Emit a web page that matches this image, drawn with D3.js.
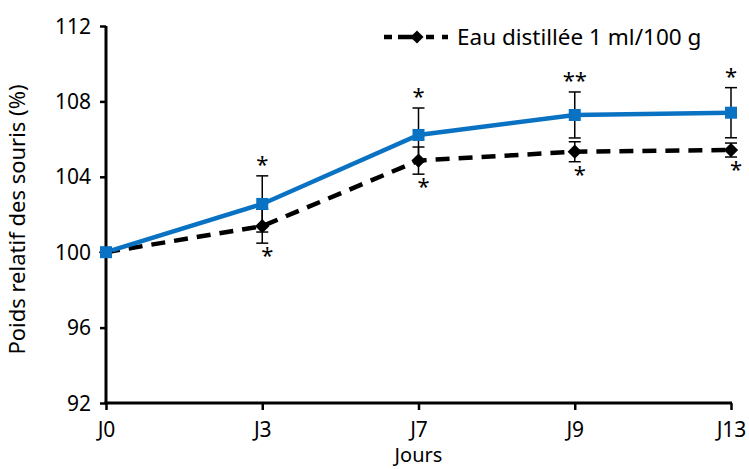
<!DOCTYPE html>
<html><head><meta charset="utf-8">
<script src="https://cdn.jsdelivr.net/npm/d3@7"></script>
<style>body{margin:0;background:#fff}svg{display:block}text{font-family:"Noto Sans",sans-serif;fill:#000}</style>
</head><body><svg id="c" width="749" height="469"></svg>
<script>
const categories = ["J0","J3","J7","J9","J13"];
const yTicks = [92,96,100,104,108,112];
const blueValues = [100,102.56,106.22,107.28,107.4];
const blueErrors = [0,1.49,1.43,1.22,1.33];
const blueStars = ["","*","*","**","*"];
const blackValues = [100,101.38,104.86,105.33,105.42];
const blackErrors = [0,0.9,0.72,0.53,0.37];
const blackStars = ["","*","*","*","*"];
const legendLabel = "Eau distillée 1 ml/100 g";
const yLabel = "Poids relatif des souris (%)";
const xLabel = "Jours";

const svg = d3.select("#c");
const L=106,R=731,T=26,B=403;
const x = d3.scalePoint().domain(categories).range([L,R]);
const y = d3.scaleLinear().domain([92,112]).range([B,T]);

// axes
const yAx = svg.append("g").attr("transform",`translate(${L},0)`)
  .call(d3.axisLeft(y).tickValues(yTicks).tickSize(6).tickPadding(9));
yAx.select(".domain").attr("stroke-width",3).attr("d",`M0,${T}V${B}`);
yAx.selectAll(".tick line").attr("stroke-width",2.5);
yAx.selectAll(".tick text").attr("font-size",21).attr("dy","0.34em");
const xAx = svg.append("g").attr("transform",`translate(0,${B})`)
  .call(d3.axisBottom(x).tickSize(7).tickPadding(12));
xAx.select(".domain").attr("stroke-width",3).attr("d",`M${L-1.5},0H${R+1}`);
xAx.selectAll(".tick line").attr("stroke-width",2.5);
xAx.selectAll(".tick text").attr("font-size",21);
svg.selectAll(".tick text").attr("font-family","Noto Sans");

svg.append("text").attr("x",(L+R)/2).attr("y",462).attr("text-anchor","middle").attr("font-size",20).text(xLabel);
svg.append("text").attr("transform",`translate(25,${(T+B)/2+5}) rotate(-90)`).attr("text-anchor","middle").attr("font-size",22).text(yLabel);

const blue="#0a72c2";
// error bars
function errBars(vals,errs){
  categories.forEach((c,i)=>{
    if(!errs[i])return;
    const cx=x(c), y1=y(vals[i]+errs[i]), y2=y(vals[i]-errs[i]);
    const g=svg.append("g").attr("stroke","#000").attr("stroke-width",1.5);
    g.append("line").attr("x1",cx).attr("x2",cx).attr("y1",y1).attr("y2",y2);
    g.append("line").attr("x1",cx-6).attr("x2",cx+6).attr("y1",y1).attr("y2",y1);
    g.append("line").attr("x1",cx-6).attr("x2",cx+6).attr("y1",y2).attr("y2",y2);
  });
}
errBars(blueValues,blueErrors);
errBars(blackValues,blackErrors);

const line=d3.line().x((d,i)=>x(categories[i])).y(d=>y(d));
svg.append("path").datum(blackValues).attr("d",line).attr("fill","none").attr("stroke","#000").attr("stroke-width",4.5).attr("stroke-dasharray","14,9");
svg.append("path").datum(blueValues).attr("d",line).attr("fill","none").attr("stroke",blue).attr("stroke-width",4.5);

svg.selectAll(".dia").data(blackValues).enter().append("path")
  .attr("d",d3.symbol().type(d3.symbolDiamond2).size(130)).attr("fill","#000")
  .attr("transform",(d,i)=>`translate(${x(categories[i])},${y(d)})`);
svg.selectAll(".sq").data(blueValues).enter().append("rect")
  .attr("x",(d,i)=>x(categories[i])-6).attr("y",d=>y(d)-6).attr("width",12).attr("height",12).attr("fill",blue);

// stars
categories.forEach((c,i)=>{
  if(blueStars[i]) svg.append("text").attr("x",x(c)).attr("y",y(blueValues[i]+blueErrors[i])-4)
    .attr("text-anchor","middle").attr("font-size",22).attr("font-family","DejaVu Sans").text(blueStars[i]);
  if(blackStars[i]) svg.append("text").attr("x",x(c)+5).attr("y",y(blackValues[i]-blackErrors[i])+20)
    .attr("text-anchor","middle").attr("font-size",22).attr("font-family","DejaVu Sans").text(blackStars[i]);
});

// legend
const lg=svg.append("g");
lg.append("line").attr("x1",384).attr("x2",450).attr("y1",37).attr("y2",37).attr("stroke","#000").attr("stroke-width",4.5).attr("stroke-dasharray","8,6,22,6,8");
lg.append("path").attr("d",d3.symbol().type(d3.symbolDiamond2).size(110)).attr("transform","translate(417,37)");
lg.append("text").attr("x",457).attr("y",37).attr("dy","0.35em").attr("font-size",22.5).text(legendLabel);
</script></body></html>
